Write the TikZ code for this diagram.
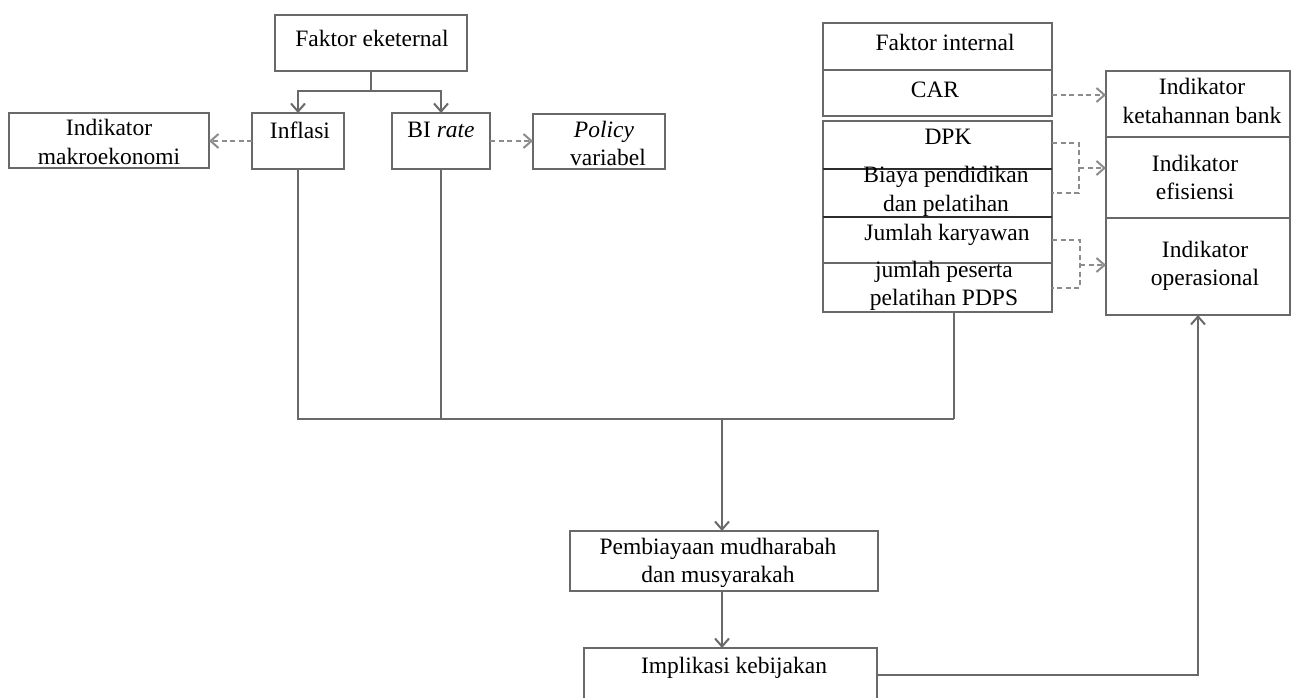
\documentclass[tikz,border=0pt]{standalone}
\usepackage{fontspec}
\setmainfont{Liberation Serif}
\usetikzlibrary{arrows.meta}
\definecolor{lg}{RGB}{105,105,105}
\definecolor{dg}{RGB}{140,140,140}
\definecolor{dk}{RGB}{45,45,45}
\begin{document}
\begin{tikzpicture}[x=1pt,y=-1pt,
  box/.style={draw=lg, line width=2pt, rectangle, inner sep=0pt, outer sep=0pt},
  lbl/.style={font=\fontsize{23.5}{28.5}\selectfont, inner sep=0pt, align=center, text=black},
  ln/.style={draw=lg, line width=2pt},
  tip/.style={-{Straight Barb[length=8pt,width=14pt]}},
  dsh/.style={draw=dg, line width=2pt, dash pattern=on 5pt off 3.5pt},
]
\clip (0,0) rectangle (1291,698);
\fill[white] (0,0) rectangle (1291,698);

% boxes
\node[box, minimum width=192pt, minimum height=56pt] (fe) at (371,43) {};
\node[box, minimum width=92pt, minimum height=56pt] (infl) at (298,141) {};
\node[box, minimum width=98pt, minimum height=56pt] (bi) at (441,141) {};
\node[box, minimum width=200pt, minimum height=55pt] (makro) at (109,140.5) {};
\node[box, minimum width=132pt, minimum height=55pt] (pol) at (599,141.5) {};
\node[box, minimum width=308pt, minimum height=60pt] (pem) at (724,561) {};
\node[box, minimum width=293pt, minimum height=84pt] (imp) at (730.5,690) {};

\node[box, minimum width=229pt, minimum height=47pt] (fint) at (937.5,46.5) {};
\node[box, minimum width=229pt, minimum height=46pt] (car) at (937.5,93) {};
\node[box, minimum width=229pt, minimum height=48pt] (dpk) at (937.5,145) {};
\node[box, minimum width=229pt, minimum height=48pt] (biaya) at (937.5,193) {};
\node[box, minimum width=229pt, minimum height=46pt] (jk) at (937.5,240) {};
\node[box, minimum width=229pt, minimum height=49pt] (jp) at (937.5,287.5) {};

\node[box, minimum width=184pt, minimum height=66pt] (ikb) at (1198,104) {};
\node[box, minimum width=184pt, minimum height=81pt] (ief) at (1198,177.5) {};
\node[box, minimum width=184pt, minimum height=97pt] (iop) at (1198,266.5) {};

\draw[dk, line width=2.6pt] (biaya.north west) -- (biaya.north east);
\draw[dk, line width=2.6pt] (biaya.south west) -- (biaya.south east);

% labels
\node[lbl] (fe-t) at (372,38) {Faktor eketernal};
\node[lbl] (infl-t) at (300,130) {Inflasi};
\node[lbl] (bi-t) at (441,130) {BI \textit{rate}};
\node[lbl] (makro-t) at (109,142) {Indikator\\makroekonomi};
\node[lbl] (pol-t) at (604,143.5) {\textit{Policy}\\ \hspace*{8pt}variabel};
\node[lbl] (pem-t) at (718,563) {Pembiayaan mudharabah\\dan musyarakah};
\node[lbl] (imp-t) at (734,668) {Implikasi kebijakan};

\node[lbl] (fint-t) at (945,42) {Faktor internal};
\node[lbl] (car-t) at (935,90) {CAR};
\node[lbl] (dpk-t) at (948,137) {DPK};
\node[lbl] (biaya-t) at (946,191.5) {Biaya pendidikan\\dan pelatihan};
\node[lbl] (jk-t) at (947,235) {Jumlah karyawan};
\node[lbl] (jp-t) at (944,286) {jumlah peserta\\pelatihan PDPS};

\node[lbl] (ikb-t) at (1202,101) {Indikator\\ketahannan bank};
\node[lbl] (ief-t) at (1195,177.5) {Indikator\\efisiensi};
\node[lbl] (iop-t) at (1205,266) {Indikator\\operasional};

% solid connectors
\draw[ln] (fe.south) -- ++(0,20) coordinate (j1);
\draw[ln, tip] (j1) -| (infl.north);
\draw[ln, tip] (j1) -| (bi.north);

\coordinate (busL) at (298,419);
\coordinate (busR) at (954,419);
\draw[ln] (infl.south) -- (busL) -- (busR);
\draw[ln] (bi.south) -- (bi.south |- busL);
\draw[ln] (jp.south -| busR) -- (busR);
\coordinate (busM) at (722,419);
\draw[ln, tip] (busM) -- (busM |- pem.north);
\draw[ln, tip] (busM |- pem.south) -- (busM |- imp.north);
\draw[ln, tip] (imp.north east) ++(0,27) -| (iop.south);

% dashed connectors
\draw[dsh, tip] (infl.west) -- (infl.west -| makro.east);
\draw[dsh, tip] (bi.east) -- (bi.east -| pol.west);
\draw[dsh, tip] (car.east) ++(0,2) -- ++(54,0);
\draw[dsh] (dpk.east) ++(0,-1.5) -- ++(27,0) |- (biaya.east);
\coordinate (m1) at (1079,168);
\draw[dsh, tip] (m1) -- (m1 -| ief.west);
\draw[dsh] (jk.east) -- ++(28,0) |- (jp.east);
\coordinate (m2) at (1080,265);
\draw[dsh, tip] (m2) -- (m2 -| iop.west);
\end{tikzpicture}
\end{document}
